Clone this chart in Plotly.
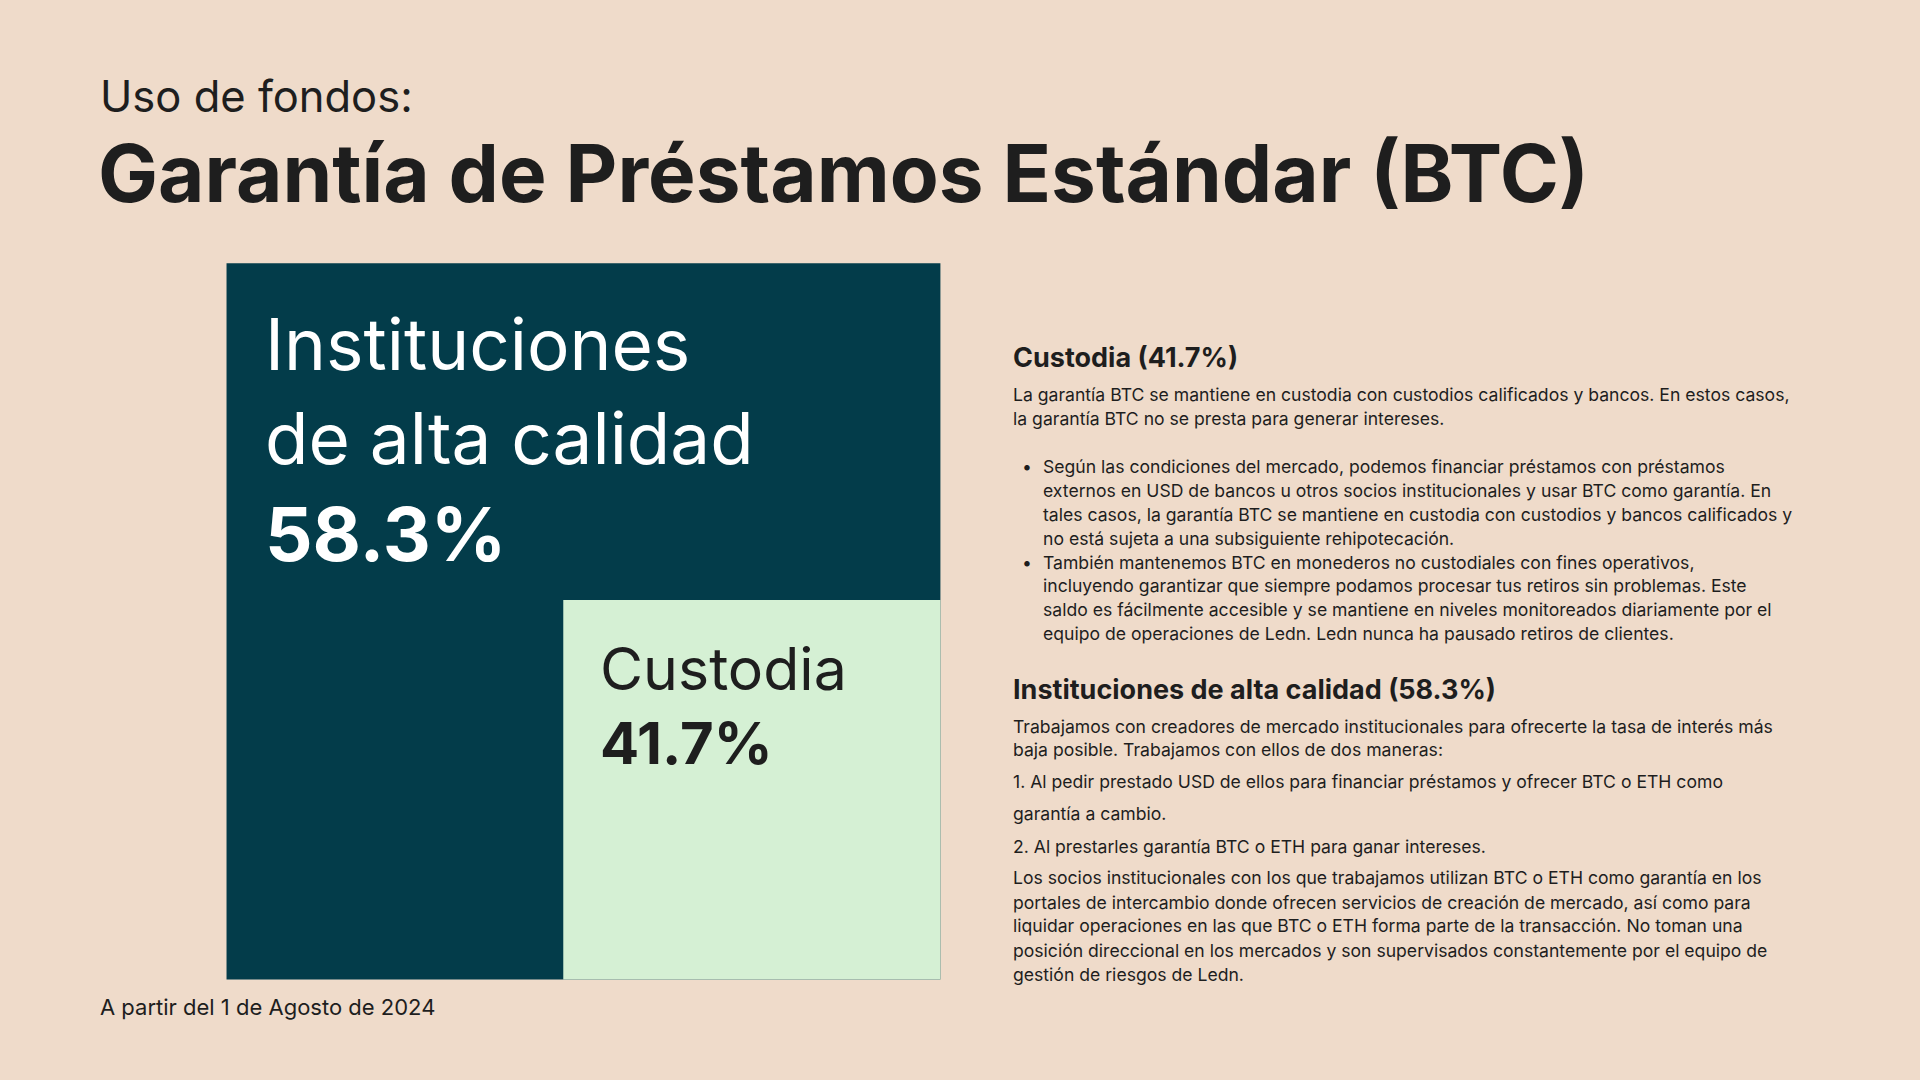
import plotly.graph_objects as go

FONT = "Inter"
BG = "#EFDBCA"
DARK = "#033C4A"
LIGHT = "#D5F0D4"
INK = "#1E1E1E"

# data
categories = ["Instituciones de alta calidad", "Custodia"]
shares = [58.3, 41.7]
date_note = "A partir del 1 de Agosto de 2024"

custodia_intro = [
    "La garantía BTC se mantiene en custodia con custodios calificados y bancos. En estos casos,",
    "la garantía BTC no se presta para generar intereses.",
]
custodia_bullets = [
    ["Según las condiciones del mercado, podemos financiar préstamos con préstamos",
     "externos en USD de bancos u otros socios institucionales y usar BTC como garantía. En",
     "tales casos, la garantía BTC se mantiene en custodia con custodios y bancos calificados y",
     "no está sujeta a una subsiguiente rehipotecación."],
    ["También mantenemos BTC en monederos no custodiales con fines operativos,",
     "incluyendo garantizar que siempre podamos procesar tus retiros sin problemas. Este",
     "saldo es fácilmente accesible y se mantiene en niveles monitoreados diariamente por el",
     "equipo de operaciones de Ledn. Ledn nunca ha pausado retiros de clientes."],
]
inst_lines = [
    (593, "Trabajamos con creadores de mercado institucionales para ofrecerte la tasa de interés más"),
    (612, "baja posible. Trabajamos con ellos de dos maneras:"),
    (638, "1. Al pedir prestado USD de ellos para financiar préstamos y ofrecer BTC o ETH como"),
    (664, "garantía a cambio."),
    (691, "2. Al prestarles garantía BTC o ETH para ganar intereses."),
    (717, "Los socios institucionales con los que trabajamos utilizan BTC o ETH como garantía en los"),
    (737, "portales de intercambio donde ofrecen servicios de creación de mercado, así como para"),
    (756, "liquidar operaciones en las que BTC o ETH forma parte de la transacción. No toman una"),
    (776, "posición direccional en los mercados y son supervisados constantemente por el equipo de"),
    (796, "gestión de riesgos de Ledn."),
]

S = 1920 / 1568  # reference layout measured on a 1568-wide image


def p(v):
    return v * S


fig = go.Figure()
fig.add_trace(go.Scatter(x=[0], y=[0], mode="markers", marker_opacity=0,
                         hoverinfo="skip", showlegend=False))

# blocks
fig.add_shape(type="rect", x0=p(185), x1=p(768), y0=p(215), y1=p(800),
              fillcolor=DARK, line_width=0, layer="below")
fig.add_shape(type="rect", x0=p(460), x1=p(768), y0=p(490), y1=p(800),
              fillcolor=LIGHT, line_width=0, layer="below")

ann = []


def txt(x, y, text, size, color=INK, bold=False):
    ann.append(dict(x=p(x), y=p(y), text=f"<b>{text}</b>" if bold else text,
                    xref="x", yref="y", xanchor="left", yanchor="middle",
                    showarrow=False, font=dict(family=FONT, size=size, color=color)))


txt(80, 78, "Uso de fondos:", 43.5)
txt(78, 141, "Garantía de Préstamos Estándar (BTC)", 80, bold=True)

txt(215, 281, "Instituciones", 71, color="white")
txt(215, 358, "de alta calidad", 71, color="white")
txt(215, 436, f"{shares[0]}%", 74.5, color="white", bold=True)
txt(488, 546, categories[1], 59)
txt(488, 607, f"{shares[1]}%", 58, bold=True)

txt(80, 822, date_note, 22)

txt(826, 292, f"{categories[1]} ({shares[1]}%)", 27, bold=True)
for y, line in zip([322, 342], custodia_intro):
    txt(826, y, line, 17.6)
y = 381
for bullet in custodia_bullets:
    txt(833, y, "•", 17.6)
    for line in bullet:
        txt(850, y, line, 17.6)
        y += 19.5
txt(826, 563, f"{categories[0]} ({shares[0]}%)", 27, bold=True)
for y, line in inst_lines:
    txt(826, y, line, 17.6)

fig.update_layout(
    width=1920, height=1080,
    margin=dict(l=0, r=0, t=0, b=0),
    paper_bgcolor=BG, plot_bgcolor=BG,
    xaxis=dict(range=[0, 1920], visible=False, fixedrange=True),
    yaxis=dict(range=[1080, 0], visible=False, fixedrange=True),
    annotations=ann,
)
fig.write_html("out.html", config={"displayModeBar": False},
               post_script="document.body.style.margin='0';"
                           "document.body.style.background='" + BG + "';")
